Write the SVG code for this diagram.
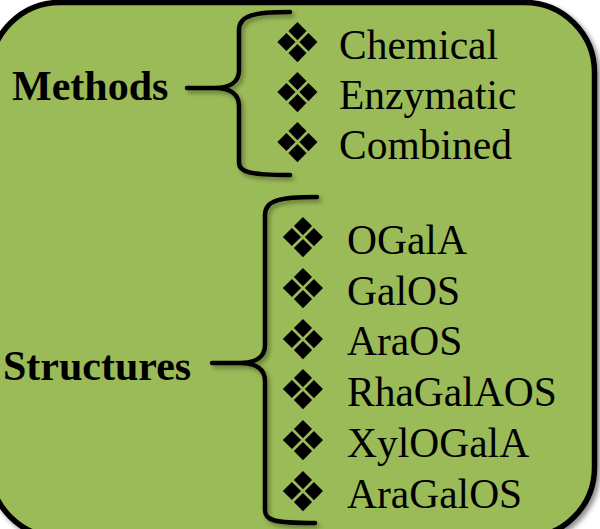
<svg xmlns="http://www.w3.org/2000/svg" width="600" height="529" viewBox="0 0 600 529">
  <defs>
    <filter id="shadow" x="-10%" y="-10%" width="130%" height="130%">
      <feDropShadow dx="3" dy="3" stdDeviation="2.5" flood-color="#000" flood-opacity="0.45"/>
    </filter>
    <filter id="bshadow" x="-30%" y="-10%" width="160%" height="130%">
      <feDropShadow dx="2.5" dy="3" stdDeviation="2" flood-color="#000" flood-opacity="0.35"/>
    </filter>
  </defs>
  <style>
    .panel { fill: #9BBB59; stroke: #000; stroke-width: 5.5; }
    .head { font-family: "Liberation Serif", "Times New Roman", serif; font-weight: bold; font-size: 42px; fill: #000; }
    .item { font-family: "Liberation Serif", "Times New Roman", serif; font-size: 41.5px; fill: #000; }
    .bullet { font-family: "DejaVu Sans", sans-serif; font-size: 55px; fill: #000; text-anchor: middle; dominant-baseline: central; }
    .brace { fill: none; stroke: #000; stroke-width: 4.5; stroke-linecap: round; stroke-linejoin: round; }
  </style>

  <g id="panel">
    <rect class="panel" x="-10" y="2.5" width="604.5" height="535" rx="70" ry="70" filter="url(#shadow)"/>
  </g>

  <g id="connectors" filter="url(#bshadow)">
    <path class="brace" d="M 290 12 C 255 12, 239 15, 239 30 L 239 70 C 239 82, 230 88, 215 88 L 187 88 M 215 88 C 230 88, 239 94, 239 106 L 239 163 C 239 172, 250 175, 290 175"/>
    <path class="brace" d="M 317 197 C 280 197, 265 200, 265 215 L 265 345 C 265 357, 256 363, 240 363 L 212 363 M 240 363 C 256 363, 265 369, 265 381 L 265 510 C 265 520, 272 523, 315 523"/>
  </g>

  <g id="methods">
    <text class="head" x="12" y="100">Methods</text>
  </g>

  <g id="methods-list">
    <text class="bullet" x="297.5" y="43">❖</text>
    <text class="bullet" x="297.5" y="93">❖</text>
    <text class="bullet" x="297.5" y="143">❖</text>
    <text class="item" x="339" y="59">Chemical</text>
    <text class="item" x="339" y="109">Enzymatic</text>
    <text class="item" x="339" y="159">Combined</text>
  </g>

  <g id="structures">
    <text class="head" x="3" y="380">Structures</text>
  </g>

  <g id="structures-list">
    <text class="bullet" x="303" y="238">❖</text>
    <text class="bullet" x="303" y="289">❖</text>
    <text class="bullet" x="303" y="340">❖</text>
    <text class="bullet" x="303" y="390">❖</text>
    <text class="bullet" x="303" y="441">❖</text>
    <text class="bullet" x="303" y="492">❖</text>
    <text class="item" x="347" y="254">OGalA</text>
    <text class="item" x="347" y="305">GalOS</text>
    <text class="item" x="347" y="355">AraOS</text>
    <text class="item" x="347" y="406">RhaGalAOS</text>
    <text class="item" x="347" y="457">XylOGalA</text>
    <text class="item" x="347" y="508">AraGalOS</text>
  </g>
</svg>
